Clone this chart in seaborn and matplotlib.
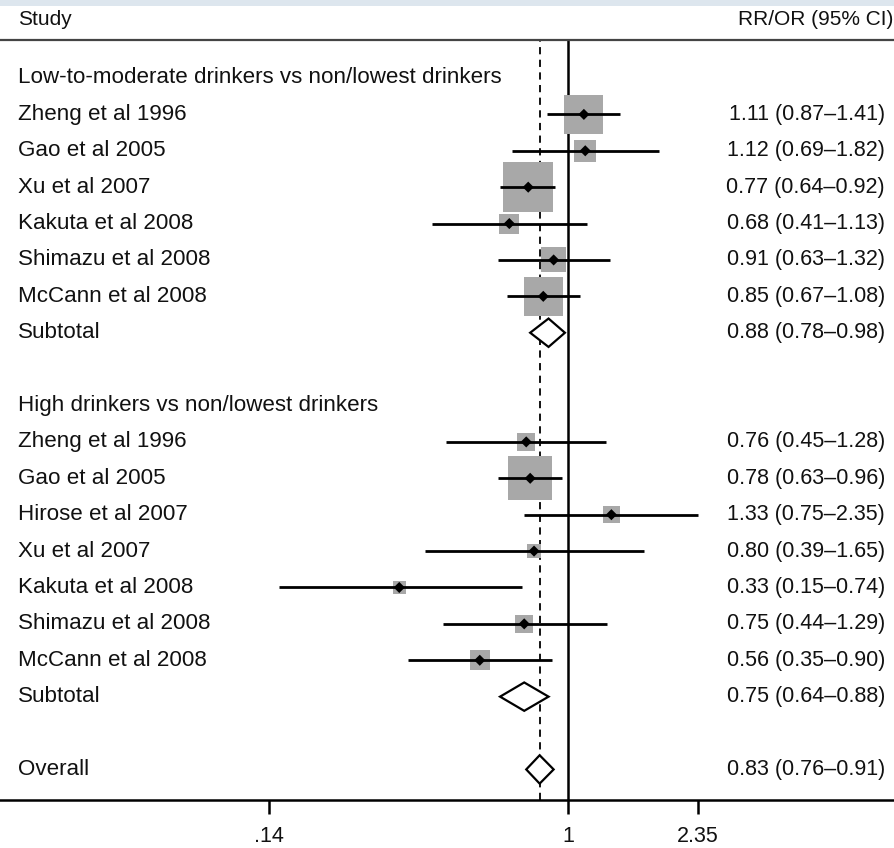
import matplotlib
matplotlib.use('Agg')
import matplotlib.pyplot as plt
import numpy as np
import pandas as pd
import seaborn as sns

# Estudos: baixo-moderado vs não/menor consumo
low_names = ['Zheng et al 1996', 'Gao et al 2005', 'Xu et al 2007', 'Kakuta et al 2008',
             'Shimazu et al 2008', 'McCann et al 2008']
low_est = [1.11, 1.12, 0.77, 0.68, 0.91, 0.85]
low_lo = [0.87, 0.69, 0.64, 0.41, 0.63, 0.67]
low_hi = [1.41, 1.82, 0.92, 1.13, 1.32, 1.08]
low_w = [14.2, 4.5, 23.4, 3.7, 5.8, 14.2]

# Estudos: alto consumo vs não/menor consumo
high_names = ['Zheng et al 1996', 'Gao et al 2005', 'Hirose et al 2007', 'Xu et al 2007',
              'Kakuta et al 2008', 'Shimazu et al 2008', 'McCann et al 2008']
high_est = [0.76, 0.78, 1.33, 0.80, 0.33, 0.75, 0.56]
high_lo = [0.45, 0.63, 0.75, 0.39, 0.15, 0.44, 0.35]
high_hi = [1.28, 0.96, 2.35, 1.65, 0.74, 1.29, 0.90]
high_w = [3.0, 18.1, 2.7, 1.8, 1.6, 3.0, 3.7]

group_titles = ['Low-to-moderate drinkers vs non/lowest drinkers',
                'High drinkers vs non/lowest drinkers']
sub_est = [0.88, 0.75]
sub_lo = [0.78, 0.64]
sub_hi = [0.98, 0.88]
overall = [0.83, 0.76, 0.91]
xticks = [0.14, 1, 2.35]
xtick_labels = ['.14', '1', '2.35']

# Monta a tabela de linhas
rows = []
groups = [(low_names, low_est, low_lo, low_hi, low_w),
          (high_names, high_est, high_lo, high_hi, high_w)]
for g, (names, est, lo, hi, w) in enumerate(groups):
    rows.append(dict(label=group_titles[g], kind='title'))
    for n, e, l, h, ww in zip(names, est, lo, hi, w):
        rows.append(dict(label=n, kind='study', est=e, lo=l, hi=h, w=ww))
    rows.append(dict(label='Subtotal', kind='diamond', est=sub_est[g], lo=sub_lo[g], hi=sub_hi[g]))
    rows.append(dict(label='', kind='blank'))
rows.append(dict(label='Overall', kind='diamond', est=overall[0], lo=overall[1], hi=overall[2]))
df = pd.DataFrame(rows)
df['y'] = np.arange(len(df))
studies = df[df['kind'] == 'study'].copy()

sns.set_theme(style='white')
plt.rcParams['font.family'] = ['Liberation Sans', 'DejaVu Sans']
fs = 15.5

fig = plt.figure(figsize=(8.95, 8.48), dpi=100)
ax = fig.add_axes([0, 48 / 848, 1, 1 - 40 / 848 - 48 / 848])
ax.set_xscale('log')
ax.set_xlim(np.exp(-568 / 152.2), np.exp(327 / 152.2))
ax.set_ylim(19.84, -1.044)

# Linhas de referência
ax.axvline(1, color='black', lw=1.8, zorder=1)
ax.axvline(overall[0], color='black', lw=1.3, ls=(0, (4, 3)), zorder=1)

# Quadrados proporcionais ao peso
px = 72 / fig.dpi
studies['side'] = 10.34 * np.sqrt(studies['w']) * px
sns.scatterplot(data=studies, x='est', y='y', marker='s', s=studies['side'] ** 2,
                color='#a8a8a8', edgecolor='none', ax=ax, zorder=2, legend=False)
ax.hlines(studies['y'], studies['lo'], studies['hi'], color='black', lw=2.0, zorder=3)
sns.scatterplot(data=studies, x='est', y='y', marker='D', s=32, color='black',
                edgecolor='none', ax=ax, zorder=4, legend=False)

# Losangos (subtotal e geral)
for _, r in df[df['kind'] == 'diamond'].iterrows():
    xs = [r['lo'], r['est'], r['hi'], r['est'], r['lo']]
    ys = [r['y'], r['y'] - 0.39, r['y'], r['y'] + 0.39, r['y']]
    ax.fill(xs, ys, facecolor='white', edgecolor='black', lw=1.6, zorder=5)

# Textos
for _, r in df.iterrows():
    if r['label']:
        ax.text(18 / 895, r['y'], r['label'], transform=ax.get_yaxis_transform(),
                ha='left', va='center', fontsize=16.1, color='#111111')
    if r['kind'] in ('study', 'diamond'):
        s = f"{r['est']:.2f} ({r['lo']:.2f}\u2013{r['hi']:.2f})"
        ax.text(885 / 895, r['y'], s, transform=ax.get_yaxis_transform(),
                ha='right', va='center', fontsize=fs, color='#111111')

ax.text(18 / 895, 1 + 20 / 760, 'Study', transform=ax.transAxes, ha='left',
        va='center', fontsize=fs - 0.5, clip_on=False, color='#111111')
ax.text(893 / 895, 1 + 20 / 760, 'RR/OR (95% CI)', transform=ax.transAxes, ha='right',
        va='center', fontsize=fs - 0.5, clip_on=False, color='#111111')

# Eixos
for side in ['left', 'right']:
    ax.spines[side].set_visible(False)
ax.spines['top'].set_color('#444444')
ax.spines['top'].set_linewidth(1.6)
ax.spines['bottom'].set_color('black')
ax.spines['bottom'].set_linewidth(1.8)
ax.set_yticks([])
ax.set_xticks(xticks)
ax.set_xticklabels(xtick_labels)
ax.minorticks_off()
ax.tick_params(axis='x', bottom=True, length=10, width=1.8, color='black',
               labelsize=fs, pad=9, labelcolor='#111111')
ax.set_xlabel('')
ax.set_ylabel('')

# faixa clara no topo
fig.patches.append(plt.Rectangle((0, 1 - 6 / 848), 1, 6 / 848, transform=fig.transFigure,
                                 facecolor='#dde6ee', edgecolor='none'))

plt.savefig('out.png', dpi=100)
